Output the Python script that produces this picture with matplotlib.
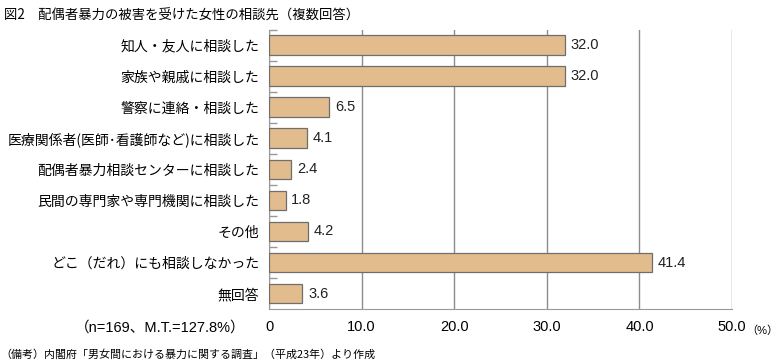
import matplotlib
matplotlib.use("Agg")
import matplotlib.pyplot as plt
import numpy as np

plt.rcParams['font.family'] = ['Noto Sans CJK JP', 'DejaVu Sans']
latin = ['Liberation Sans', 'Noto Sans CJK JP']

# data
labels = ['知人・友人に相談した', '家族や親戚に相談した', '警察に連絡・相談した',
          '医療関係者(医師･看護師など)に相談した', '配偶者暴力相談センターに相談した',
          '民間の専門家や専門機関に相談した', 'その他', 'どこ（だれ）にも相談しなかった', '無回答']
values = [32.0, 32.0, 6.5, 4.1, 2.4, 1.8, 4.2, 41.4, 3.6]
xticks = [0, 10, 20, 30, 40, 50]

fig = plt.figure(figsize=(7.8, 3.64), dpi=100)
ax = fig.add_axes([0.345, 0.151, 0.5935, 0.767])

y = np.arange(len(labels))
ax.barh(y, values, height=0.64, color='#E2BC8D', edgecolor='#6E6E6E', linewidth=0.9, zorder=3)
for yi, v in zip(y, values):
    ax.text(v + 0.6, yi, '%.1f' % v, va='center', ha='left', fontsize=10.5,
            family=latin, color='#222222')

ax.set_xlim(0, 50)
ax.set_ylim(len(labels) - 0.5, -0.5)
ax.set_yticks(y)
ax.set_yticklabels(labels, fontsize=10)
ax.tick_params(axis='y', length=0, pad=7)
# small ticks between categories on the left spine
ax.set_yticks(np.arange(-0.5, len(labels) - 0.5, 1.0), minor=True)
ax.tick_params(axis='y', which='minor', direction='in', length=6, color='#999999', width=1)

ax.set_xticks(xticks)
ax.set_xticklabels(['0'] + ['%.1f' % t for t in xticks[1:]], fontsize=10.5, family=latin)
ax.tick_params(axis='x', length=0, pad=8)
ax.grid(axis='x', color='#8C8C8C', linewidth=1, zorder=0)

for s in ['top', 'right']:
    ax.spines[s].set_visible(False)
ax.spines['left'].set_color('#999999')
ax.spines['bottom'].set_color('#999999')

fig.text(0.005, 0.975, '図2　配偶者暴力の被害を受けた女性の相談先（複数回答）', fontsize=9.6,
         va='top', ha='left')
fig.text(0.205, 0.10, '（n=169、M.T.=127.8%）', fontsize=10.5, va='center', ha='center',
         family=latin)
fig.text(0.978, 0.092, '（%）', fontsize=8, va='center', ha='center', family=latin)
fig.text(0.0, 0.025, '（備考）内閣府「男女間における暴力に関する調査」（平成23年）より作成', fontsize=7.9,
         va='center', ha='left')

fig.savefig('out.png', dpi=100)
